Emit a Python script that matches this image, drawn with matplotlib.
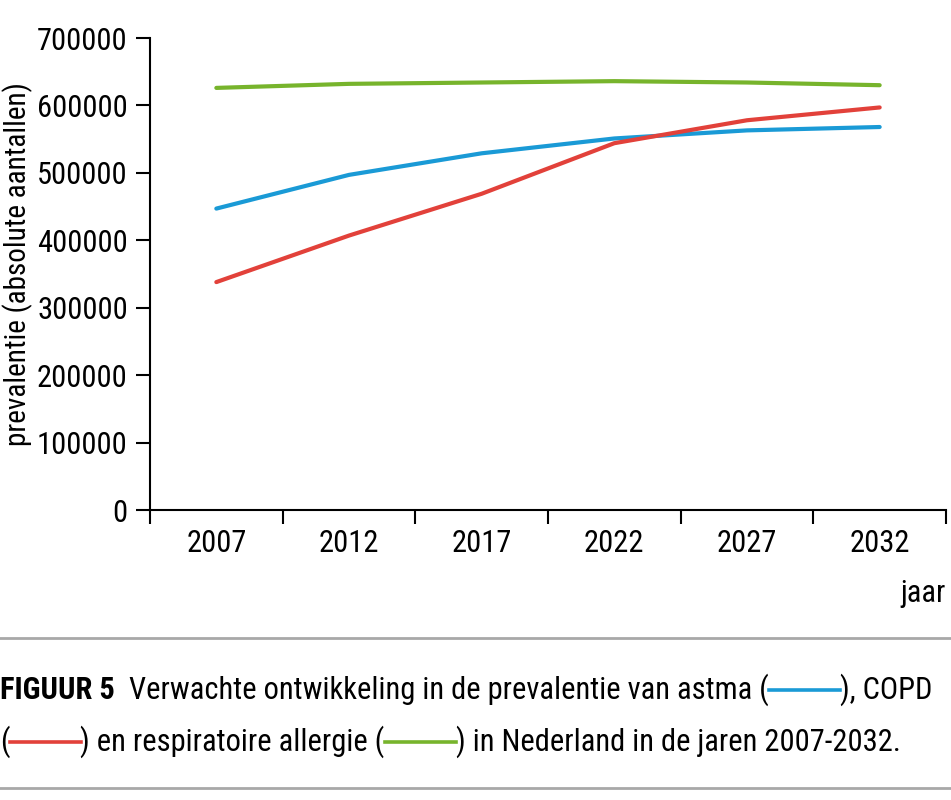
import matplotlib
matplotlib.use("Agg")
import matplotlib.pyplot as plt
from matplotlib import font_manager
from matplotlib.lines import Line2D

years = ["2007", "2012", "2017", "2022", "2027", "2032"]
astma = [447000, 497000, 529000, 551000, 563000, 568000]
copd = [338000, 407000, 469000, 544000, 578000, 597000]
allergie = [626000, 632000, 634000, 636000, 634000, 630000]
yticks = [0, 100000, 200000, 300000, 400000, 500000, 600000, 700000]

c_blue = "#1a9ad6"
c_red = "#e2413a"
c_green = "#77b42c"

# pick a condensed font if available
fam = "DejaVu Sans"
stretch = "condensed"
for cand in ["Roboto Condensed", "Liberation Sans Narrow", "Open Sans Condensed"]:
    try:
        font_manager.findfont(font_manager.FontProperties(family=cand), fallback_to_default=False)
        fam = cand
        stretch = "normal"
        break
    except Exception:
        pass
plt.rcParams["font.family"] = [fam, "DejaVu Sans"]
plt.rcParams["font.stretch"] = stretch

FS = 22

fig = plt.figure(figsize=(9.51, 8.0), dpi=100)
ax = fig.add_axes([150/951, 1-510/800, (946-150)/951, (510-38)/800])

x = list(range(len(years)))
ax.plot(x, allergie, color=c_green, lw=3.0, solid_capstyle="round")
ax.plot(x, astma, color=c_blue, lw=3.0, solid_capstyle="round")
ax.plot(x, copd, color=c_red, lw=3.0, solid_capstyle="round")

ax.set_xlim(-0.5, len(years) - 0.5)
ax.set_ylim(0, 700000)
ax.set_yticks(yticks)
ax.set_yticklabels([str(v) for v in yticks], fontsize=FS)
ax.set_xticks([i - 0.5 for i in range(len(years) + 1)])
ax.set_xticklabels([])
ax.set_xticks(x, minor=True)
ax.set_xticklabels(years, minor=True, fontsize=FS)
ax.tick_params(axis="x", which="major", direction="out", length=10, width=1.5, color="black")
ax.tick_params(axis="x", which="minor", length=0, pad=14)
ax.tick_params(axis="y", direction="out", length=10, width=1.5, pad=6)
for s in ["top", "right"]:
    ax.spines[s].set_visible(False)
for s in ["left", "bottom"]:
    ax.spines[s].set_linewidth(1.5)

ax.set_ylabel("prevalentie (absolute aantallen)", fontsize=21)
ax.yaxis.set_label_coords(-0.147, 0.52)
fig.text(946/951, 1-593/800, "jaar", fontsize=FS, ha="right", va="center")

# horizontal rules
fig.add_artist(Line2D([0, 1], [1-638/800, 1-638/800], color="#a8a8a8", lw=2))
fig.add_artist(Line2D([0, 1], [1-788/800, 1-788/800], color="#a8a8a8", lw=2))

fig.canvas.draw()
renderer = fig.canvas.get_renderer()

def draw_line(segments, x0, ybase):
    xpos = x0
    for seg in segments:
        if seg[0] == "dash":
            color = seg[1]
            w = 71
            yy = ybase - 9.5
            fig.add_artist(Line2D([xpos/951, (xpos + w)/951], [1-yy/800, 1-yy/800],
                                  color=color, lw=2.6))
            xpos += w
        else:
            txt, weight = seg
            t = fig.text(xpos/951, 1-ybase/800, txt, fontsize=FS, fontweight=weight,
                         ha="left", va="baseline")
            bb = t.get_window_extent(renderer)
            xpos = bb.x1

draw_line([("FIGUUR 5", "bold"), ("  Verwachte ontwikkeling in de prevalentie van astma (", "normal"),
           ("dash", c_blue), ("), COPD", "normal")], 0, 699)
draw_line([("(", "normal"), ("dash", c_red), (") en respiratoire allergie (", "normal"),
           ("dash", c_green), (") in Nederland in de jaren 2007-2032.", "normal")], 0, 751)

fig.savefig("out.png", dpi=100)
